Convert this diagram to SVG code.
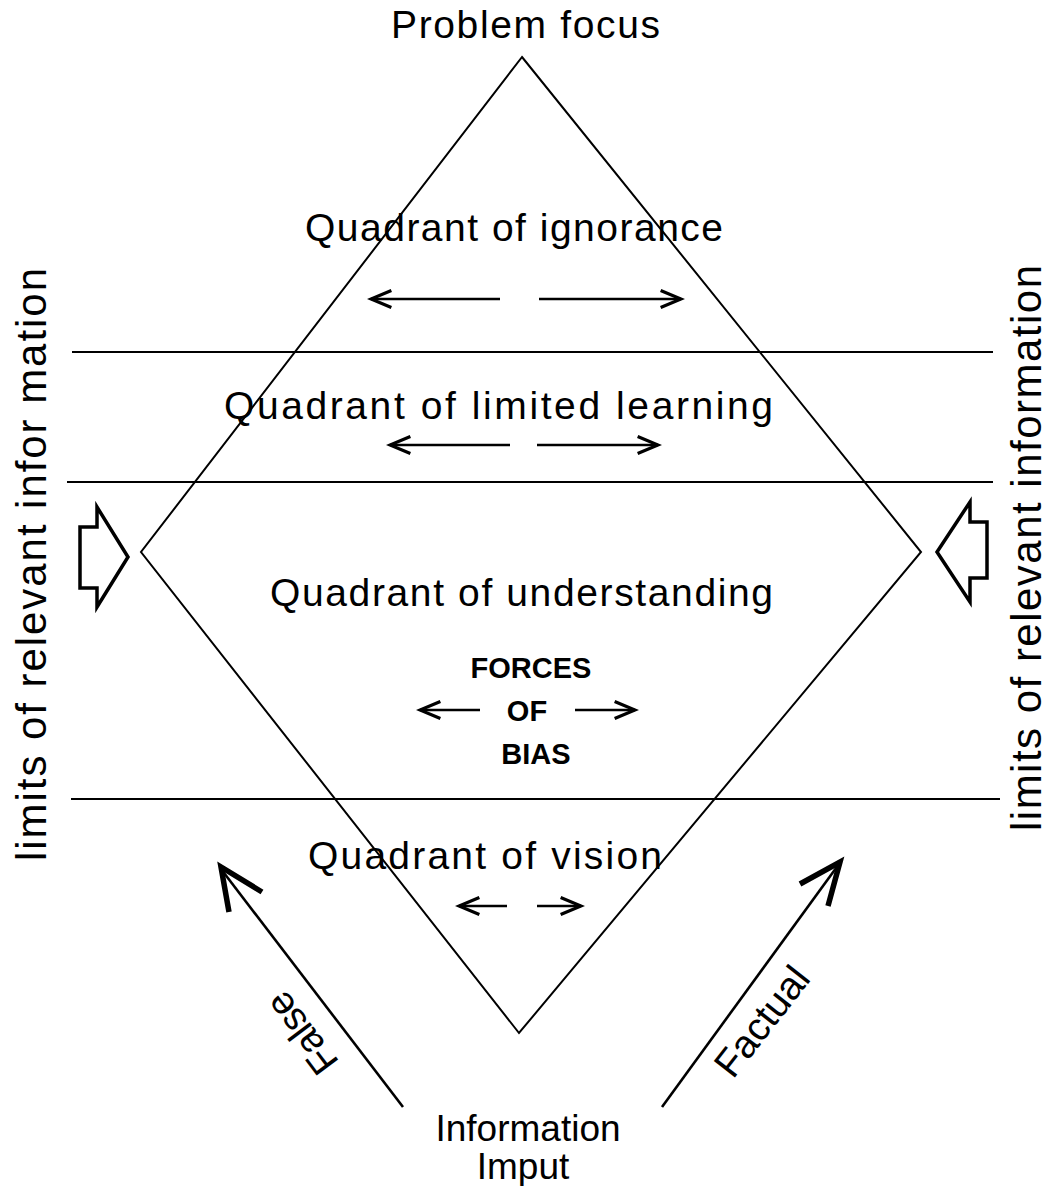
<svg xmlns="http://www.w3.org/2000/svg" width="1049" height="1186" viewBox="0 0 1049 1186">
<defs>
<style>
.t{font-family:"Liberation Sans",Arial,sans-serif;font-size:39px;fill:#000}
.s{font-family:"Liberation Sans",Arial,sans-serif;font-size:42px;fill:#000}
.io{font-family:"Liberation Sans",Arial,sans-serif;font-size:37px;fill:#000;text-anchor:middle}
.b{font-family:"Liberation Sans",Arial,sans-serif;font-size:29px;font-weight:bold;fill:#000;text-anchor:middle}
.ln{stroke:#000;stroke-width:2;fill:none}
.ar{stroke:#000;stroke-width:2.6;fill:none}
.blk{stroke:#000;stroke-width:3.5;fill:#fff;stroke-linejoin:miter}
.hd{stroke:#000;stroke-width:5.5;fill:none;stroke-linejoin:miter;stroke-miterlimit:10}
</style>
<marker id="ah" markerUnits="userSpaceOnUse" markerWidth="30" markerHeight="30" viewBox="-24 -14 28 28" refX="0" refY="0" orient="auto">
<path d="M-19,-8 L0,0 L-19,8" fill="none" stroke="#000" stroke-width="3" stroke-linejoin="miter"/>
</marker>
</defs>
<rect width="1049" height="1186" fill="#fff"/>

<g id="diamond">
<polygon class="ln" points="522,57 921,552 519,1033 141,552"/>
</g>

<g id="bands">
<line class="ln" x1="72" y1="352" x2="993" y2="352"/>
<line class="ln" x1="67" y1="482" x2="993" y2="482"/>
<line class="ln" x1="71" y1="799" x2="1000" y2="799"/>
</g>

<g id="top-label"><text class="t" x="391" y="38" textLength="269" lengthAdjust="spacing">Problem focus</text></g>

<g id="q-ignorance"><text class="t" x="305" y="241" textLength="418" lengthAdjust="spacing">Quadrant of ignorance</text></g>
<g id="q-limited"><text class="t" x="224" y="419" textLength="549" lengthAdjust="spacing">Quadrant of limited learning</text></g>
<g id="q-understanding"><text class="t" x="270" y="606" textLength="503" lengthAdjust="spacing">Quadrant of understanding</text></g>
<g id="q-vision"><text class="t" x="308" y="869" textLength="354" lengthAdjust="spacing">Quadrant of vision</text></g>

<g id="forces">
<text class="b" x="531" y="678">FORCES</text>
<text class="b" x="527" y="721">OF</text>
<text class="b" x="536" y="764">BIAS</text>
</g>

<g id="input-label">
<text class="io" x="528" y="1141">Information</text>
<text class="io" x="523" y="1179">Imput</text>
</g>

<g id="left-limit">
<text class="s" transform="translate(46,861) rotate(-90)" x="0" y="0" textLength="593" lengthAdjust="spacing">limits of relevant infor mation</text>
<path class="blk" d="M80,527 L97,527 L97,507 L128,557 L97,607 L97,588 L80,588 Z"/>
</g>

<g id="right-limit">
<text class="s" transform="translate(1041,831) rotate(-90)" x="0" y="0" textLength="566" lengthAdjust="spacing">limits of relevant information</text>
<path class="blk" d="M987,522 L970,522 L970,502 L937,552 L970,602 L970,578 L987,578 Z"/>
</g>

<g id="false-label"><text class="t" transform="translate(340,1062) rotate(-127)" x="0" y="0" textLength="92" lengthAdjust="spacing">False</text></g>
<g id="factual-label"><text class="t" transform="translate(733,1080) rotate(-52)" x="0" y="0" textLength="128" lengthAdjust="spacing">Factual</text></g>

<g id="connectors">
<line class="ar" x1="500" y1="299" x2="371" y2="299" marker-end="url(#ah)"/>
<line class="ar" x1="539" y1="299" x2="681" y2="299" marker-end="url(#ah)"/>
<line class="ar" x1="510" y1="445" x2="390" y2="445" marker-end="url(#ah)"/>
<line class="ar" x1="537" y1="445" x2="658" y2="445" marker-end="url(#ah)"/>
<line class="ar" x1="480" y1="710" x2="420" y2="710" marker-end="url(#ah)"/>
<line class="ar" x1="575" y1="710" x2="635" y2="710" marker-end="url(#ah)"/>
<line class="ar" x1="507" y1="906" x2="459" y2="906" marker-end="url(#ah)"/>
<line class="ar" x1="537" y1="906" x2="581" y2="906" marker-end="url(#ah)"/>
<line class="ar" x1="403" y1="1107" x2="221" y2="869"/>
<polyline class="hd" points="262,892 221,867 229,912"/>
<line class="ar" x1="662" y1="1107" x2="839" y2="864"/>
<polyline class="hd" points="800,884 840,862 828,906"/>
</g>
</svg>
